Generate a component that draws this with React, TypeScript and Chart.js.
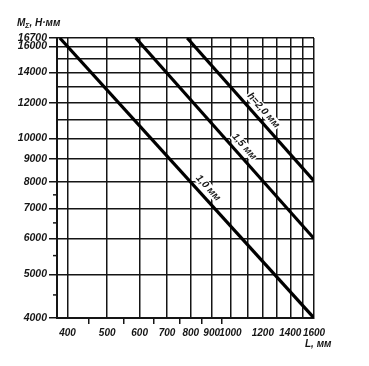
import React, { useEffect, useRef } from "react";
import { Chart, registerables } from "chart.js";

Chart.register(...registerables);

// ---- data ----
const hLabels = ["1,0 мм", "1,5 мм", "h=2,0 мм"];
const lineStartL = [383, 587, 784];
const lineStartM = [16700, 16700, 16700];
const lineEndL = [1600, 1600, 1600];
const lineEndM = [4000, 6000, 8050];
const labelAtL = [850, 1041, 1159];

const xGrid = [400, 500, 600, 700, 800, 900, 1000, 1100, 1200, 1300, 1400, 1500, 1600];
const xLabels = [400, 500, 600, 700, 800, 900, 1000, 1200, 1400, 1600];
const xMinor = [450, 550, 650, 750, 850, 950];

const yGrid = [4000, 5000, 6000, 7000, 8000, 9000, 10000, 11000, 12000, 13000, 14000, 15000, 16000, 16700];
const yLabels = [4000, 5000, 6000, 7000, 8000, 9000, 10000, 12000, 14000, 16000, 16700];
const yMinor = [4500, 5500, 6500, 7500];

const xMin = 377;
const xMax = 1600;
const yMin = 4000;
const yMax = 16700;

const yTitleMain = "M";
const yTitleSub = "Σ";
const yTitleRest = ", Н·мм";
const xTitle = "L, мм";

const FONT = "Liberation Sans";
const INK = "#151515";

const overlay = {
  id: "overlay",
  afterDraw(chart: any) {
    const ctx = chart.ctx;
    const xs = chart.scales.x;
    const ys = chart.scales.y;
    const area = chart.chartArea;
    ctx.save();
    ctx.strokeStyle = INK;
    ctx.lineWidth = 1.5;
    // minor y ticks
    yMinor.forEach((v) => {
      const py = ys.getPixelForValue(v);
      ctx.beginPath();
      ctx.moveTo(area.left - 4, py);
      ctx.lineTo(area.left, py);
      ctx.stroke();
    });
    // line labels
    ctx.font = `italic bold 10px "${FONT}"`;
    ctx.textAlign = "center";
    ctx.textBaseline = "middle";
    hLabels.forEach((t, i) => {
      const x0 = xs.getPixelForValue(lineStartL[i]);
      const y0 = ys.getPixelForValue(lineStartM[i]);
      const x1 = xs.getPixelForValue(lineEndL[i]);
      const y1 = ys.getPixelForValue(lineEndM[i]);
      const ang = Math.atan2(y1 - y0, x1 - x0);
      const px = xs.getPixelForValue(labelAtL[i]);
      const py = y0 + ((px - x0) / (x1 - x0)) * (y1 - y0);
      const nx = Math.sin(ang);
      const ny = -Math.cos(ang);
      ctx.save();
      ctx.translate(px + nx * 9, py + ny * 9);
      ctx.rotate(ang);
      const w = ctx.measureText(t).width;
      ctx.fillStyle = "#fff";
      ctx.fillRect(-w / 2 - 1, -5, w + 2, 10);
      ctx.fillStyle = INK;
      ctx.fillText(t, 0, 0);
      ctx.restore();
    });
    // axis titles
    ctx.fillStyle = INK;
    ctx.textAlign = "left";
    ctx.textBaseline = "alphabetic";
    let tx = area.left - 40;
    const ty = area.top - 12;
    ctx.font = `italic bold 10px "${FONT}"`;
    ctx.fillText(yTitleMain, tx, ty);
    tx += ctx.measureText(yTitleMain).width;
    ctx.font = `italic bold 7px "${FONT}"`;
    ctx.fillText(yTitleSub, tx, ty + 2);
    tx += ctx.measureText(yTitleSub).width;
    ctx.font = `italic bold 10px "${FONT}"`;
    ctx.fillText(yTitleRest, tx, ty);
    ctx.fillText(xTitle, area.right - 9, area.bottom + 29);
    ctx.restore();
  },
};

export default function App() {
  const ref = useRef<HTMLCanvasElement | null>(null);
  useEffect(() => {
    document.body.style.margin = "0";
    const canvas = ref.current;
    if (!canvas) return;
    const datasets = hLabels.map((t, i) => ({
      label: t,
      data: [
        { x: lineStartL[i], y: lineStartM[i] },
        { x: lineEndL[i], y: lineEndM[i] },
      ],
      showLine: true,
      borderColor: "#000",
      borderWidth: 3.2,
      pointRadius: 0,
      fill: false,
    }));
    const xFont = { family: FONT, size: 10, style: "italic" as const, weight: "bold" as const };
    const yFont = { family: FONT, size: 10.5, style: "italic" as const, weight: "bold" as const };
    const chart = new Chart(canvas, {
      type: "scatter",
      data: { datasets },
      options: {
        animation: false,
        responsive: false,
        events: [],
        layout: { padding: { left: 0, right: 55, top: 38, bottom: 0 } },
        plugins: { legend: { display: false }, tooltip: { enabled: false } },
        scales: {
          x: {
            type: "logarithmic",
            min: xMin,
            max: xMax,
            afterFit: (s: any) => {
              s.height = 48;
            },
            afterBuildTicks: (s: any) => {
              s.ticks = [...xGrid, ...xMinor].sort((a, b) => a - b).map((v) => ({ value: v }));
            },
            border: { display: true, color: INK, width: 2 },
            grid: {
              lineWidth: 1.5,
              color: (c: any) => (xGrid.includes(c.tick?.value) ? INK : "rgba(0,0,0,0)"),
              tickColor: (c: any) => (xMinor.includes(c.tick?.value) ? INK : "rgba(0,0,0,0)"),
              tickLength: 6,
              tickWidth: 1.5,
            },
            ticks: {
              autoSkip: false,
              maxRotation: 0,
              minRotation: 0,
              padding: 3,
              color: INK,
              font: xFont,
              callback: (v: any) => (xLabels.includes(Number(v)) ? String(v) : ""),
            },
          },
          y: {
            type: "logarithmic",
            min: yMin,
            max: yMax,
            afterFit: (s: any) => {
              s.width = 57;
            },
            afterBuildTicks: (s: any) => {
              s.ticks = yGrid.map((v) => ({ value: v }));
            },
            border: { display: true, color: INK, width: 2 },
            grid: {
              lineWidth: 1.5,
              color: INK,
              tickColor: (c: any) => (yLabels.includes(c.tick?.value) ? INK : "rgba(0,0,0,0)"),
              tickLength: 8,
              tickWidth: 1.5,
            },
            ticks: {
              autoSkip: false,
              padding: 2,
              color: INK,
              font: yFont,
              callback: (v: any) => (yLabels.includes(Number(v)) ? String(v) : ""),
            },
          },
        },
      },
      plugins: [overlay],
    });
    return () => chart.destroy();
  }, []);
  return (
    <div style={{ width: 369, height: 366 }}>
      <canvas ref={ref} width={369} height={366} />
    </div>
  );
}
